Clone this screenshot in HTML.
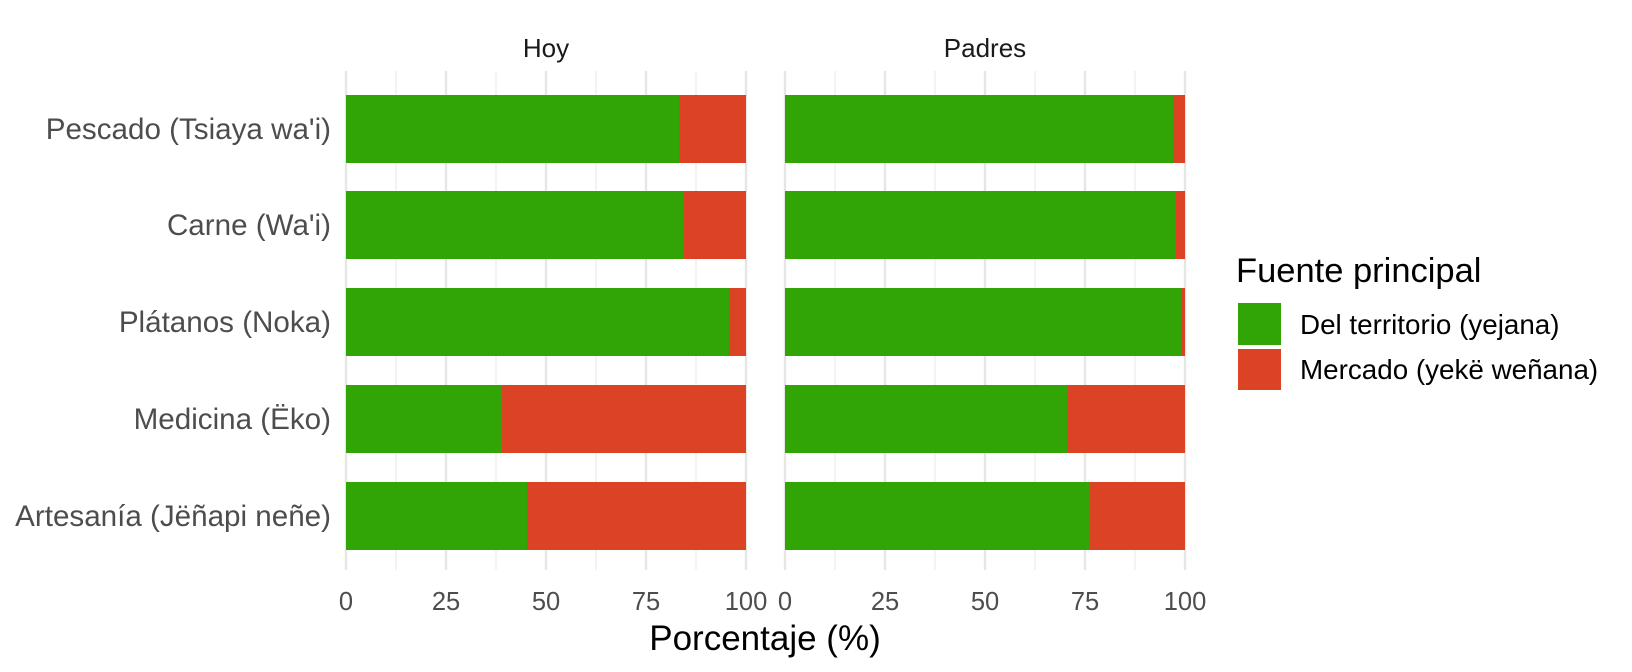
<!DOCTYPE html>
<html><head><meta charset="utf-8"><style>body{margin:0;background:#fff}svg{display:block}text{font-family:"Liberation Sans",Arial,sans-serif}</style></head><body>
<svg width="1632" height="672" viewBox="0 0 1632 672" xmlns="http://www.w3.org/2000/svg">
<g stroke="#ebebeb" stroke-width="1.2">
<line x1="396" y1="71" x2="396" y2="570"/><line x1="496" y1="71" x2="496" y2="570"/><line x1="596" y1="71" x2="596" y2="570"/><line x1="696" y1="71" x2="696" y2="570"/>
<line x1="835" y1="71" x2="835" y2="570"/><line x1="935" y1="71" x2="935" y2="570"/><line x1="1035" y1="71" x2="1035" y2="570"/><line x1="1135" y1="71" x2="1135" y2="570"/>
</g>
<g stroke="#e6e6e6" stroke-width="2.4">
<line x1="346" y1="71" x2="346" y2="570"/><line x1="446" y1="71" x2="446" y2="570"/><line x1="546" y1="71" x2="546" y2="570"/><line x1="646" y1="71" x2="646" y2="570"/><line x1="746" y1="71" x2="746" y2="570"/>
<line x1="785" y1="71" x2="785" y2="570"/><line x1="885" y1="71" x2="885" y2="570"/><line x1="985" y1="71" x2="985" y2="570"/><line x1="1085" y1="71" x2="1085" y2="570"/><line x1="1185" y1="71" x2="1185" y2="570"/>
</g>
<g>
<rect x="346" y="95" width="333" height="68" fill="#31a506"/><rect x="679" y="95" width="67" height="68" fill="#dc4325"/>
<rect x="346" y="191" width="338" height="68" fill="#31a506"/><rect x="684" y="191" width="62" height="68" fill="#dc4325"/>
<rect x="346" y="288" width="383" height="68" fill="#31a506"/><rect x="729" y="288" width="17" height="68" fill="#dc4325"/>
<rect x="346" y="385" width="156" height="68" fill="#31a506"/><rect x="502" y="385" width="244" height="68" fill="#dc4325"/>
<rect x="346" y="482" width="181" height="68" fill="#31a506"/><rect x="527" y="482" width="219" height="68" fill="#dc4325"/>
<rect x="785" y="95" width="388" height="68" fill="#31a506"/><rect x="1173" y="95" width="12" height="68" fill="#dc4325"/>
<rect x="785" y="191" width="391" height="68" fill="#31a506"/><rect x="1176" y="191" width="9" height="68" fill="#dc4325"/>
<rect x="785" y="288" width="396" height="68" fill="#31a506"/><rect x="1181" y="288" width="4" height="68" fill="#dc4325"/>
<rect x="785" y="385" width="283" height="68" fill="#31a506"/><rect x="1068" y="385" width="117" height="68" fill="#dc4325"/>
<rect x="785" y="482" width="305" height="68" fill="#31a506"/><rect x="1090" y="482" width="95" height="68" fill="#dc4325"/>
</g>
<g font-size="26" fill="#1a1a1a" text-anchor="middle">
<text x="546" y="57">Hoy</text><text x="985" y="57">Padres</text>
</g>
<g font-size="29.6" fill="#4d4d4d" text-anchor="end">
<text x="331" y="139">Pescado (Tsiaya wa'i)</text>
<text x="331" y="235">Carne (Wa'i)</text>
<text x="331" y="332">Plátanos (Noka)</text>
<text x="331" y="429">Medicina (Ëko)</text>
<text x="331" y="526">Artesanía (Jëñapi neñe)</text>
</g>
<g font-size="25.5" fill="#4d4d4d" text-anchor="middle">
<text x="346" y="610">0</text><text x="446" y="610">25</text><text x="546" y="610">50</text><text x="646" y="610">75</text><text x="746" y="610">100</text>
<text x="785" y="610">0</text><text x="885" y="610">25</text><text x="985" y="610">50</text><text x="1085" y="610">75</text><text x="1185" y="610">100</text>
</g>
<text x="765" y="650" font-size="35" fill="#000" text-anchor="middle">Porcentaje (%)</text>
<text x="1236" y="282" font-size="34.5" fill="#000">Fuente principal</text>
<rect x="1238" y="303" width="43" height="42" fill="#31a506"/>
<rect x="1238" y="349" width="43" height="41" fill="#dc4325"/>
<g font-size="27.8" fill="#000">
<text x="1300" y="334">Del territorio (yejana)</text>
<text x="1300" y="379">Mercado (yekë weñana)</text>
</g>
</svg>
</body></html>
